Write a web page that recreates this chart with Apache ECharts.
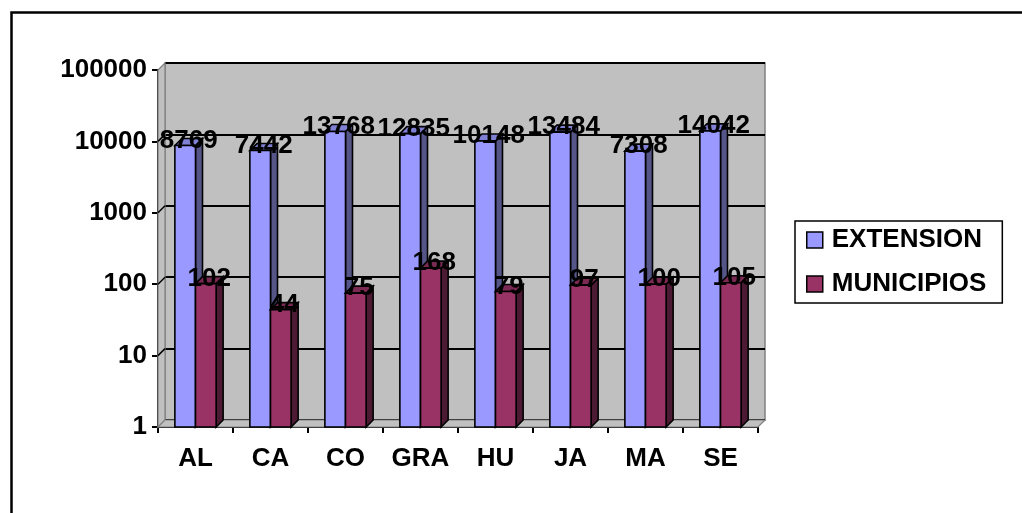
<!DOCTYPE html>
<html>
<head>
<meta charset="utf-8">
<script src="https://cdn.jsdelivr.net/npm/echarts@6/dist/echarts.min.js"></script>
<style>
  html, body { margin: 0; padding: 0; background: #fff; }
  #chart { width: 1022px; height: 513px; }
</style>
</head>
<body>
<div id="chart"></div>
<script>
const categories = ['AL', 'CA', 'CO', 'GRA', 'HU', 'JA', 'MA', 'SE'];
const extension = [8769, 7442, 13768, 12835, 10148, 13484, 7308, 14042];
const municipios = [102, 44, 75, 168, 79, 97, 100, 105];
const yTicks = [1, 10, 100, 1000, 10000, 100000];

const FONT = '"Liberation Sans", Arial, sans-serif';
const FS = 26;
const DEPTH = 7;

const chart = echarts.init(document.getElementById('chart'));

// 3d-ish column: side face, top face, front face
function barRenderer(side, colors) {
  return function (params, api) {
    const cat = api.value(0);
    const c = api.coord([cat, api.value(1)]);
    const base = api.coord([cat, 1]);
    const band = api.coord([1, 1])[0] - api.coord([0, 1])[0];
    const w = band * 0.275;
    const x0 = side === 0 ? c[0] - w : c[0];
    const x1 = x0 + w;
    const yt = c[1], yb = base[1];
    const d = DEPTH;
    const stroke = { stroke: '#000', lineWidth: 1.6 };
    return {
      type: 'group',
      children: [
        { type: 'polygon', shape: { points: [[x1, yt], [x1 + d, yt - d], [x1 + d, yb - d], [x1, yb]] },
          style: Object.assign({ fill: colors[1] }, stroke) },
        { type: 'polygon', shape: { points: [[x0, yt], [x0 + d, yt - d], [x1 + d, yt - d], [x1, yt]] },
          style: Object.assign({ fill: colors[2] }, stroke) },
        { type: 'rect', shape: { x: x0, y: yt, width: w, height: yb - yt },
          style: Object.assign({ fill: colors[0] }, stroke) }
      ]
    };
  };
}

function labelRenderer(side) {
  return function (params, api) {
    const cat = api.value(0);
    const c = api.coord([cat, api.value(1)]);
    const band = api.coord([1, 1])[0] - api.coord([0, 1])[0];
    const w = band * 0.275;
    const x0 = side === 0 ? c[0] - w : c[0];
    return {
      type: 'text',
      style: {
        x: x0 + w / 2 + DEPTH / 2, y: c[1] - 5,
        text: String(api.value(1)),
        fill: '#000', font: 'bold ' + FS + 'px ' + FONT,
        align: 'center', verticalAlign: 'middle'
      }
    };
  };
}

// left side wall + floor of the plot box
function wallRenderer(params, api) {
  const cs = params.coordSys;
  const d = DEPTH;
  const x = cs.x, y = cs.y, h = cs.height, w = cs.width;
  const kids = [
    { type: 'polygon', shape: { points: [[x, y], [x + d, y - d], [x + d, y + h - d], [x, y + h]] },
      style: { fill: '#C0C0C0', stroke: '#808080', lineWidth: 1.2 } },
    { type: 'polygon', shape: { points: [[x, y + h], [x + d, y + h - d], [x + w + d, y + h - d], [x + w, y + h]] },
      style: { fill: '#C0C0C0', stroke: '#808080', lineWidth: 1.2 } }
  ];
  yTicks.slice(1, -1).forEach(function (v) {
    const p = api.coord([0, v]);
    kids.push({ type: 'line', shape: { x1: x, y1: p[1], x2: x + d, y2: p[1] - d },
      style: { stroke: '#000', lineWidth: 1.5 } });
  });
  return { type: 'group', children: kids };
}

const seriesData = function (arr) { return arr.map(function (v, i) { return [i, v]; }); };

chart.setOption({
  animation: false,
  backgroundColor: '#fff',
  textStyle: { fontFamily: FONT },
  graphic: [{
    type: 'rect', left: 9, top: 10, silent: true,
    shape: { width: 1040, height: 540 },
    style: { fill: 'none', stroke: '#000', lineWidth: 2.5 }
  }],
  legend: {
    data: ['EXTENSION', 'MUNICIPIOS'],
    orient: 'vertical',
    left: 795, top: 221,
    padding: [6, 16, 6, 11],
    itemGap: 18,
    itemWidth: 16, itemHeight: 16,
    icon: 'rect',
    borderColor: '#000', borderWidth: 1.5,
    itemStyle: { borderColor: '#000', borderWidth: 1.5 },
    textStyle: { fontFamily: FONT, fontWeight: 'bold', fontSize: FS, color: '#000', lineHeight: 26, padding: [0, 0, 0, 4] }
  },
  grid: [
    { left: 158, top: 70, right: 264, bottom: 86 },
    { left: 165, top: 63, right: 257, bottom: 93, show: true, backgroundColor: '#C0C0C0', borderColor: '#808080', borderWidth: 1.5 }
  ],
  xAxis: [
    {
      type: 'category', data: categories, gridIndex: 0,
      axisLine: { lineStyle: { color: '#000', width: 2 } },
      axisTick: { show: true, length: 6, interval: 0, lineStyle: { color: '#000', width: 2 } },
      axisLabel: { color: '#000', fontFamily: FONT, fontWeight: 'bold', fontSize: FS, margin: 19, interval: 0 }
    },
    { type: 'category', data: categories, gridIndex: 1, show: false }
  ],
  yAxis: [
    {
      type: 'log', logBase: 10, min: 1, max: 100000, gridIndex: 0,
      axisLine: { show: true, lineStyle: { color: '#000', width: 2 } },
      axisTick: { show: true, length: 6, lineStyle: { color: '#000', width: 2 } },
      splitLine: { show: false },
      axisLabel: {
        color: '#000', fontFamily: FONT, fontWeight: 'bold', fontSize: FS, margin: 11,
        formatter: function (v) { return String(yTicks.find(function (t) { return Math.abs(t - v) < 1e-6 * t; }) || v); }
      }
    },
    {
      type: 'log', logBase: 10, min: 1, max: 100000, gridIndex: 1,
      axisLine: { show: false }, axisTick: { show: false }, axisLabel: { show: false },
      splitLine: { show: true, lineStyle: { color: '#000', width: 2 } }
    }
  ],
  series: [
    { type: 'custom', name: 'walls', xAxisIndex: 0, yAxisIndex: 0, z: 1, silent: true,
      renderItem: wallRenderer, data: [[0, 1]] },
    { type: 'custom', name: 'EXTENSION', xAxisIndex: 0, yAxisIndex: 0, z: 2,
      itemStyle: { color: '#9999FF' },
      renderItem: barRenderer(0, ['#9999FF', '#555588', '#7F7FD4']),
      data: seriesData(extension) },
    { type: 'custom', name: 'MUNICIPIOS', xAxisIndex: 0, yAxisIndex: 0, z: 3,
      itemStyle: { color: '#993366' },
      renderItem: barRenderer(1, ['#993366', '#4D1A33', '#7A2952']),
      data: seriesData(municipios) },
    { type: 'custom', name: 'extLabels', xAxisIndex: 0, yAxisIndex: 0, z: 5, silent: true,
      renderItem: labelRenderer(0), data: seriesData(extension) },
    { type: 'custom', name: 'munLabels', xAxisIndex: 0, yAxisIndex: 0, z: 5, silent: true,
      renderItem: labelRenderer(1), data: seriesData(municipios) }
  ]
});
</script>
</body>
</html>
